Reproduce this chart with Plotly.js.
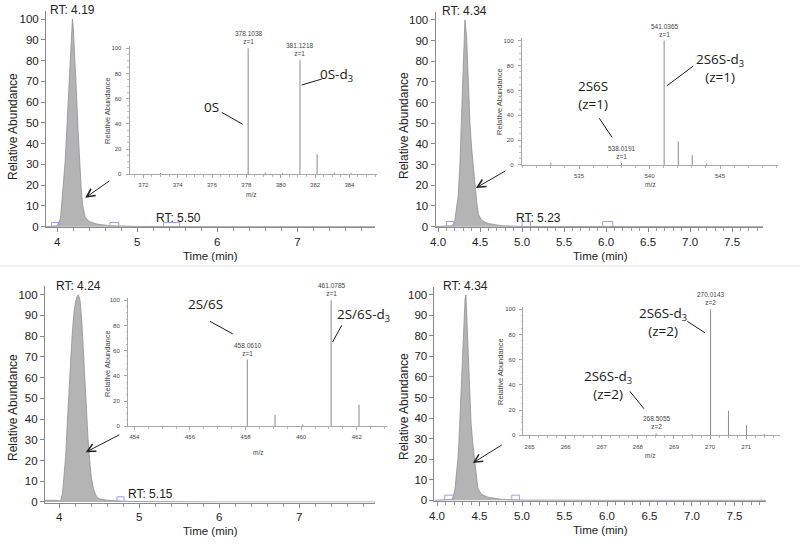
<!DOCTYPE html>
<html>
<head>
<meta charset="utf-8">
<script src="https://cdn.plot.ly/plotly-3.0.1.min.js"></script>
<style>
html,body{margin:0;padding:0;background:#fff;}
#chart{width:800px;height:544px;}
</style>
</head>
<body>
<div id="chart"></div>
<script>
// ---------- Chromatograms (Time, min / Relative Abundance) ----------
const p1Time = [3.86, 3.95, 4.00, 4.04, 4.06, 4.08, 4.10, 4.12, 4.14, 4.16, 4.18, 4.19, 4.20, 4.22, 4.24, 4.26, 4.28, 4.30, 4.32, 4.35, 4.40, 4.50, 4.65, 4.80, 5.00, 6.00, 7.00, 7.97];
const p1Abund = [0, 0.2, 0.4, 4, 12, 22, 32, 48, 64, 80, 95, 100, 96, 82, 65, 47, 30, 18, 10, 4.5, 2.5, 1.2, 0.5, 0.2, 0.1, 0, 0, 0];

const p2Time = [3.97, 4.10, 4.17, 4.20, 4.22, 4.24, 4.26, 4.28, 4.30, 4.32, 4.34, 4.36, 4.38, 4.40, 4.42, 4.44, 4.46, 4.48, 4.52, 4.60, 4.75, 5.00, 6.00, 7.87];
const p2Abund = [0, 0.1, 0.5, 3, 8, 15, 30, 55, 82, 100, 92, 70, 50, 38, 28, 20, 12, 6, 3, 1.5, 0.5, 0.1, 0, 0];

const p3Time = [3.82, 3.90, 3.95, 4.00, 4.02, 4.04, 4.06, 4.08, 4.10, 4.12, 4.14, 4.16, 4.18, 4.20, 4.22, 4.24, 4.26, 4.28, 4.30, 4.32, 4.34, 4.36, 4.38, 4.40, 4.43, 4.46, 4.50, 4.60, 4.80, 5.00, 6.00, 7.95];
const p3Abund = [0.8, 1.0, 0.8, 0.6, 1, 4, 12, 22, 38, 54, 68, 80, 90, 96, 99, 100, 97, 88, 74, 58, 42, 30, 20, 12, 6, 3, 1.5, 0.8, 0.4, 0.2, 0, 0];

const p4Time = [3.97, 4.10, 4.18, 4.21, 4.23, 4.25, 4.27, 4.29, 4.31, 4.33, 4.34, 4.36, 4.38, 4.40, 4.42, 4.44, 4.46, 4.48, 4.52, 4.60, 4.75, 5.00, 6.00, 7.87];
const p4Abund = [0, 0.1, 0.5, 5, 12, 22, 40, 62, 84, 98, 100, 78, 52, 38, 28, 21, 12, 6, 3, 1.5, 0.5, 0.1, 0, 0];

// ---------- Detection windows (blue boxes on the baseline) ----------
const p1BoxStart = [3.93, 4.66, 5.33], p1BoxEnd = [4.03, 4.77, 5.53], p1BoxH = [2, 2, 2];
const p2BoxStart = [4.10, 5.00, 5.96], p2BoxEnd = [4.19, 5.10, 6.08], p2BoxH = [2.5, 2.5, 2.5];
const p3BoxStart = [4.72], p3BoxEnd = [4.81], p3BoxH = [2.5];
const p4BoxStart = [4.09, 4.88], p4BoxEnd = [4.19, 4.97], p4BoxH = [2.5, 2.5];

// ---------- Mass spectra (m/z / Relative Abundance) ----------
const s1Mz = [373.0, 378.1038, 379.10, 380.1, 381.1218, 382.12, 383.12, 384.1];
const s1Int = [1, 100, 1.5, 1, 91, 16, 1.5, 1];
const s2Mz = [533.0, 538.0191, 541.0365, 542.04, 543.03, 544.04];
const s2Int = [2, 1.5, 100, 19, 8, 1];
const s3Mz = [458.0610, 459.06, 460.05, 461.0785, 462.08];
const s3Int = [53, 9, 1.5, 100, 17];
const s4Mz = [268.5055, 269.5, 270.0143, 270.51, 271.01, 271.5];
const s4Int = [1.5, 1, 100, 19.5, 8, 1];

// labelled peaks
const lab1Mz = [378.1038, 381.1218], lab1Int = [100, 91], lab1Z = ['z=1', 'z=1'];
const lab2Mz = [541.0365, 538.0191], lab2Int = [100, 1.5], lab2Z = ['z=1', 'z=1'];
const lab3Mz = [461.0785, 458.0610], lab3Int = [100, 53], lab3Z = ['z=1', 'z=1'];
const lab4Mz = [270.0143, 268.5055], lab4Int = [100, 1.5], lab4Z = ['z=2', 'z=2'];

// retention time labels
const rtMain = ['RT: 4.19', 'RT: 4.34', 'RT: 4.24', 'RT: 4.34'];
const rtMainT = [4.19, 4.32, 4.24, 4.34];
const rtMinor = ['RT: 5.50', 'RT: 5.23', 'RT: 5.15'];
const rtMinorT = [5.51, 5.19, 5.14];

const AX = 'Liberation Sans, Arial, sans-serif';
const CAL = 'Open Sans, Lato, sans-serif';

function chromTrace(t, a, xa, ya) {
  return {x: t, y: a, xaxis: xa, yaxis: ya, type: 'scatter', mode: 'lines',
    fill: 'tozeroy', fillcolor: '#b4b4b4', line: {color: '#8f8f99', width: 0.8},
    hoverinfo: 'skip'};
}
function boxTrace(s, e, h, xa, ya) {
  const x = [], y = [];
  for (let i = 0; i < s.length; i++) {
    x.push(s[i], s[i], e[i], e[i], null);
    y.push(0, h[i], h[i], 0, null);
  }
  return {x, y, xaxis: xa, yaxis: ya, type: 'scatter', mode: 'lines',
    line: {color: '#a0a0e6', width: 1}, hoverinfo: 'skip'};
}
function stickTrace(mz, it, xa, ya) {
  const x = [], y = [];
  for (let i = 0; i < mz.length; i++) {
    x.push(mz[i], mz[i], null);
    y.push(0, it[i], null);
  }
  return {x, y, xaxis: xa, yaxis: ya, type: 'scatter', mode: 'lines',
    line: {color: '#8a8a8a', width: 1}, hoverinfo: 'skip'};
}

const data = [
  chromTrace(p1Time, p1Abund, 'x', 'y'), boxTrace(p1BoxStart, p1BoxEnd, p1BoxH, 'x', 'y'),
  stickTrace(s1Mz, s1Int, 'x2', 'y2'),
  chromTrace(p2Time, p2Abund, 'x3', 'y3'), boxTrace(p2BoxStart, p2BoxEnd, p2BoxH, 'x3', 'y3'),
  stickTrace(s2Mz, s2Int, 'x4', 'y4'),
  chromTrace(p3Time, p3Abund, 'x5', 'y5'), boxTrace(p3BoxStart, p3BoxEnd, p3BoxH, 'x5', 'y5'),
  stickTrace(s3Mz, s3Int, 'x6', 'y6'),
  chromTrace(p4Time, p4Abund, 'x7', 'y7'), boxTrace(p4BoxStart, p4BoxEnd, p4BoxH, 'x7', 'y7'),
  stickTrace(s4Mz, s4Int, 'x8', 'y8')
];

function mainX(range, domain, dtick, minorD, anchor, fmt) {
  return {domain, range, anchor, showgrid: false, zeroline: false, showline: true,
    linecolor: '#8a8a8a', linewidth: 1, ticks: 'outside', ticklen: 4, tickcolor: '#8a8a8a',
    tick0: 0, dtick, tickformat: fmt,
    minor: {dtick: minorD, ticks: 'outside', ticklen: 3, tickcolor: '#9a9a9a', showgrid: false},
    tickfont: {family: AX, size: 11.5, color: '#222'}, fixedrange: true};
}
function mainY(domain, anchor) {
  return {domain, range: [-0.3, 104], anchor, showgrid: false, zeroline: false, showline: true,
    linecolor: '#8a8a8a', linewidth: 1, ticks: 'outside', ticklen: 4, tickcolor: '#8a8a8a',
    tickvals: [0,10,20,30,40,50,60,70,80,90,100],
    tickfont: {family: AX, size: 11.5, color: '#222'}, fixedrange: true};
}
function insetX(range, domain, dtick, minorD, anchor) {
  return {domain, range, anchor, showgrid: false, zeroline: false, showline: true,
    linecolor: '#a8a8a8', linewidth: 1, ticks: 'outside', ticklen: 3, tickcolor: '#a8a8a8',
    tick0: 0, dtick, ticklabelstandoff: 2,
    minor: {dtick: minorD, ticks: 'outside', ticklen: 2, tickcolor: '#b8b8b8', showgrid: false},
    tickfont: {family: AX, size: 6, color: '#444'}, fixedrange: true};
}
function insetY(domain, anchor) {
  return {domain, range: [0, 102], anchor, showgrid: false, zeroline: false, showline: true,
    linecolor: '#a8a8a8', linewidth: 1, ticks: 'outside', ticklen: 3, tickcolor: '#a8a8a8',
    tickvals: [0,20,40,60,80,100], ticklabelstandoff: 3,
    minor: {dtick: 5, ticks: 'outside', ticklen: 1.5, tickcolor: '#c0c0c0', showgrid: false},
    tickfont: {family: AX, size: 6, color: '#444'}, fixedrange: true};
}

const layout = {
  width: 800, height: 544, margin: {l: 0, r: 0, t: 0, b: 0},
  paper_bgcolor: '#ffffff', plot_bgcolor: 'rgba(0,0,0,0)', showlegend: false,
  xaxis:  mainX([3.86, 7.97], [0.0575, 0.46875], 1, 0.2, 'y', 'd'),
  yaxis:  mainY([0.5822, 0.9803], 'x'),
  xaxis2: insetX([371.2, 385.6], [0.162, 0.4711], 2, 0.5, 'y2'),
  yaxis2: insetY([0.6796, 0.9158], 'x2'),
  xaxis3: mainX([3.97, 7.87], [0.5444, 0.9539], 0.5, 0.1, 'y3', '.1f'),
  yaxis3: mainY([0.5822, 0.9785], 'x3'),
  xaxis4: insetX([530.94, 549.1], [0.6522, 0.9723], 5, 1, 'y4'),
  yaxis4: insetY([0.6967, 0.9298], 'x4'),
  xaxis5: mainX([3.82, 7.95], [0.0561, 0.4691], 1, 0.2, 'y5', 'd'),
  yaxis5: mainY([0.0761, 0.4735], 'x5'),
  xaxis6: insetX([453.77, 463.08], [0.16, 0.4835], 2, 0.5, 'y6'),
  yaxis6: insetY([0.2164, 0.4526], 'x6'),
  xaxis7: mainX([3.97, 7.87], [0.5431, 0.9574], 0.5, 0.1, 'y7', '.1f'),
  yaxis7: mainY([0.0792, 0.4733], 'x7'),
  xaxis8: insetX([264.83, 271.94], [0.6543, 0.9751], 1, 0.25, 'y8'),
  yaxis8: insetY([0.1998, 0.436], 'x8'),
  shapes: [], annotations: []
};

const A = layout.annotations, S = layout.shapes;
const px = v => v / 800, py = v => 1 - v / 544;

// divider between rows
S.push({type: 'line', xref: 'paper', yref: 'paper', x0: 0, x1: 1, y0: py(266), y1: py(266),
  line: {color: '#e2e2e2', width: 1}});

// axis titles (main)
function paperText(text, x, y, size, angle, color, family) {
  A.push({xref: 'paper', yref: 'paper', x: px(x), y: py(y), text, showarrow: false,
    xanchor: 'center', yanchor: 'middle', textangle: angle || 0,
    font: {family: family || AX, size, color: color || '#222'}});
}
paperText('Relative Abundance', 13, 127, 12, -90);
paperText('Relative Abundance', 404, 126, 12, -90);
paperText('Relative Abundance', 13, 408, 12, -90);
paperText('Relative Abundance', 404, 407, 12, -90);
paperText('Time (min)', 210, 256, 11.5, 0);
paperText('Time (min)', 600, 256, 11.5, 0);
paperText('Time (min)', 210, 531, 11.5, 0);
paperText('Time (min)', 600, 530, 11.5, 0);
// inset titles
paperText('Relative Abundance', 107, 111, 7.5, -90, '#444');
paperText('Relative Abundance', 499, 102, 7.5, -90, '#444');
paperText('Relative Abundance', 107, 364, 7.5, -90, '#444');
paperText('Relative Abundance', 500, 372, 7.5, -90, '#444');
paperText('m/z', 251, 194, 6.5, 0, '#444');
paperText('m/z', 650, 184, 6.5, 0, '#444');
paperText('m/z', 258, 452, 6.5, 0, '#444');
paperText('m/z', 650, 455, 6.5, 0, '#444');

// RT labels
const mainAx = [['x','y'], ['x3','y3'], ['x5','y5'], ['x7','y7']];
rtMain.forEach((t, i) => {
  A.push({xref: mainAx[i][0], yref: mainAx[i][1], x: rtMainT[i], y: 100, text: t,
    showarrow: false, xanchor: 'center', yanchor: 'bottom', yshift: 0,
    font: {family: AX, size: 12, color: '#222'}});
});
rtMinor.forEach((t, i) => {
  A.push({xref: mainAx[i][0], yref: mainAx[i][1], x: rtMinorT[i], y: 4, text: t,
    showarrow: false, xanchor: 'center', yanchor: 'middle',
    font: {family: AX, size: 12, color: '#222'}});
});

// arrows from inset to peak
const arrows = [[4.35, 13.9, 4.67, 22.5], [4.45, 18.7, 4.82, 27.4], [4.33, 24, 4.77, 32.8], [4.42, 18.1, 4.78, 27.4]];
arrows.forEach((a, i) => {
  A.push({xref: mainAx[i][0], yref: mainAx[i][1], axref: mainAx[i][0], ayref: mainAx[i][1],
    x: a[0], y: a[1], ax: a[2], ay: a[3], text: '', showarrow: true,
    arrowhead: 5, arrowsize: 1.6, arrowwidth: 1, arrowcolor: '#222'});
});

// peak labels in insets
function peakLabels(mz, it, z, xa, ya) {
  mz.forEach((m, i) => {
    A.push({xref: xa, yref: ya, x: m, y: it[i], text: m.toFixed(4) + '<br>' + z[i],
      showarrow: false, xanchor: 'center', yanchor: 'bottom', yshift: 1,
      font: {family: AX, size: 6.5, color: '#444'}});
  });
}
peakLabels(lab1Mz, lab1Int, lab1Z, 'x2', 'y2');
peakLabels(lab2Mz, lab2Int, lab2Z, 'x4', 'y4');
peakLabels(lab3Mz, lab3Int, lab3Z, 'x6', 'y6');
peakLabels(lab4Mz, lab4Int, lab4Z, 'x8', 'y8');

// compound labels + leader lines
function compound(text, x, y, xa, ya) {
  A.push({xref: xa, yref: ya, x, y, text, showarrow: false, xanchor: 'center', yanchor: 'middle',
    font: {family: CAL, size: 13.5, color: '#1a1a1a'}});
}
function leader(x0, y0, x1, y1, xa, ya) {
  S.push({type: 'line', xref: xa, yref: ya, x0, y0, x1, y1, line: {color: '#1a1a1a', width: 1}});
}
compound('0S', 375.98, 53.7, 'x2', 'y2');
leader(376.57, 49.1, 377.79, 39.7, 'x2', 'y2');
compound('0S-d<sub>3</sub>', 383.26, 78.8, 'x2', 'y2');
leader(381.22, 70.9, 382.39, 75.6, 'x2', 'y2');

compound('2S6S<br>(z=1)', 536.0, 56.6, 'x4', 'y4');
leader(536.44, 37.6, 537.34, 22.3, 'x4', 'y4');
compound('2S6S-d<sub>3</sub><br>(z=1)', 545.0, 78.4, 'x4', 'y4');
leader(543.1, 79.6, 541.22, 63.6, 'x4', 'y4');

compound('2S/6S', 456.54, 97.3, 'x6', 'y6');
leader(456.72, 83.3, 457.54, 73.3, 'x6', 'y6');
compound('2S/6S-d<sub>3</sub>', 462.23, 88.1, 'x6', 'y6');
leader(461.46, 80.2, 461.13, 66.9, 'x6', 'y6');

compound('2S6S-d<sub>3</sub><br>(z=2)', 268.71, 90.3, 'x8', 'y8');
leader(269.37, 90.5, 269.86, 81.4, 'x8', 'y8');
compound('2S6S-d<sub>3</sub><br>(z=2)', 267.18, 40.1, 'x8', 'y8');
leader(267.78, 34.9, 268.17, 21.1, 'x8', 'y8');

Plotly.newPlot('chart', data, layout, {displayModeBar: false, staticPlot: true});
</script>
</body>
</html>
